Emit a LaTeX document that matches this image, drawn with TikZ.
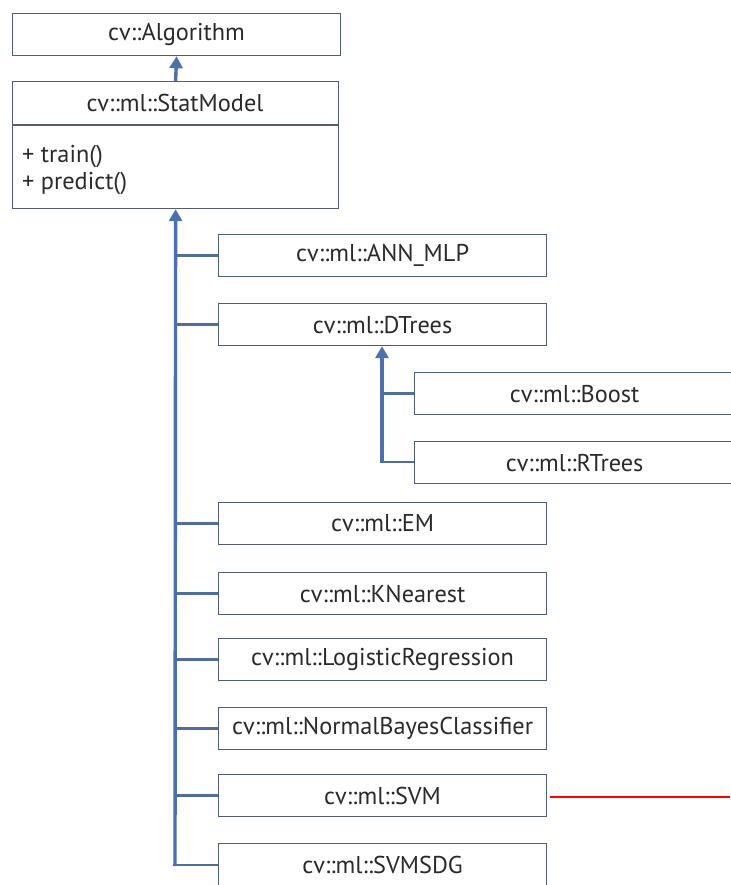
\documentclass[tikz,border=0pt]{standalone}
\usepackage{fontspec}
\setmainfont{PT Sans}
\usetikzlibrary{arrows.meta}
\definecolor{boxline}{HTML}{4E5D7A}
\definecolor{linkblue}{HTML}{4A70B0}
\definecolor{branchblue}{HTML}{4F6E9E}
\definecolor{txt}{HTML}{2A2A2A}
\newcommand{\lblfont}{\fontsize{24.3}{29}\selectfont}
\begin{document}
\begin{tikzpicture}[x=1pt,y=-1pt,
  cls/.style={draw=boxline,line width=1.2pt,fill=white,minimum height=42pt,
    inner sep=0pt,text=txt,font=\lblfont},
  wide/.style={cls,minimum width=328pt},
  trunk/.style={draw=linkblue,line width=3.4pt},
  branch/.style={draw=branchblue,line width=2.6pt},
  inherit/.style={trunk,-{Triangle[width=13pt,length=12pt]}}]
\useasboundingbox (0,0) rectangle (730,885);
\fill[white] (0,0) rectangle (730,885);

% base classes
\node[wide,anchor=north west] (alg) at (12,13) {cv::Algorithm};
\node[cls,anchor=north west,minimum width=326pt,minimum height=127pt] (stat) at (12,81) {};
\draw[boxline,line width=1.2pt] (12,125) -- (338,125);
\node[anchor=center,text=txt,font=\lblfont] (stattitle) at (175,103) {cv::ml::StatModel};
\node[anchor=north west,align=left,text=txt,font=\fontsize{24.3}{27}\selectfont,inner sep=0pt] (statops) at (22,145) {+ train()\\+ predict()};

% derived classes
\node[wide,anchor=north west] (ann) at (218,234) {cv::ml::ANN\_MLP};
\node[wide,anchor=north west] (dt) at (218,303) {cv::ml::DTrees};
\node[cls,anchor=north west,minimum width=330pt] (boost) at (414,372) {\hspace*{-10pt}cv::ml::Boost};
\node[cls,anchor=north west,minimum width=330pt] (rt) at (414,441) {\hspace*{-10pt}cv::ml::RTrees};
\node[wide,anchor=north west] (em) at (218,502) {cv::ml::EM};
\node[wide,anchor=north west] (kn) at (218,572) {cv::ml::KNearest};
\node[wide,anchor=north west] (lr) at (218,638) {cv::ml::LogisticRegression};
\node[wide,anchor=north west] (nb) at (218,707) {cv::ml::NormalBayesClassifier};
\node[wide,anchor=north west] (svm) at (218,774) {cv::ml::SVM};
\node[wide,anchor=north west,minimum height=52pt] (sgd) at (218,843) {\raisebox{9pt}{cv::ml::SVMSDG}};

% inheritance links
\draw[inherit] (stat.north) -- (alg.south);
\coordinate (trunkbot) at (175,866);
\draw[inherit] (trunkbot) -- (stat.south);
\foreach \c in {ann,dt,em,kn,lr,nb,svm}
  \draw[branch] (175,0 |- \c.west) -- (\c.west);
\draw[branch] (173.3,865) -- (sgd.west |- 0,865);
\coordinate (subbot) at (382,462);
\draw[inherit] (subbot) -- (382,0 |- dt.south);
\draw[branch] (382,0 |- boost.west) -- (boost.west);
\draw[branch] (380.3,462) -- (rt.west |- 0,462);

% marker line
\coordinate (mark) at (730,797);
\draw[red,line width=1.2pt] (550,797) -- (mark);
\end{tikzpicture}
\end{document}
